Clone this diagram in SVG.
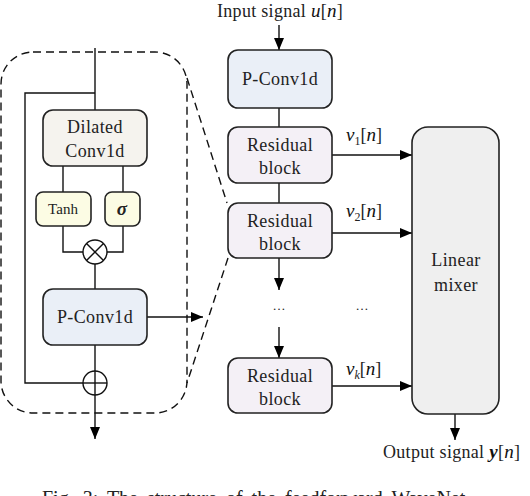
<svg xmlns="http://www.w3.org/2000/svg" width="530" height="496" viewBox="0 0 530 496">
<defs>
<marker id="ah" viewBox="0 0 12 10" refX="12" refY="5" markerWidth="12" markerHeight="10" markerUnits="userSpaceOnUse" orient="auto">
<path d="M0,0 L12,5 L0,10 Z" fill="#000"/>
</marker>
</defs>
<style>
.box{stroke:#222;stroke-width:1.6}
.ln{stroke:#111;stroke-width:1.4;fill:none}
.arr{stroke:#111;stroke-width:1.4;fill:none;marker-end:url(#ah)}
.dash{stroke:#111;stroke-width:1.4;fill:none;stroke-dasharray:8,5}
.t{font-family:"Liberation Serif",serif;font-size:18px;fill:#222;text-anchor:middle;letter-spacing:0.4px}
.m{font-family:"Liberation Serif",serif;font-size:19px;font-style:italic;fill:#111}
</style>
<g id="connectors">
<rect x="1" y="52" width="186" height="361" rx="32" ry="32" class="dash"/>
<line x1="187" y1="78" x2="227" y2="203" class="dash"/>
<line x1="228" y1="258" x2="187" y2="383" class="dash"/>
<line x1="95" y1="48" x2="95" y2="110" class="ln"/>
<polyline points="95,93 25,93 25,383 83,383" class="ln"/>
<line x1="63" y1="166" x2="63" y2="192" class="ln"/>
<line x1="123" y1="166" x2="123" y2="192" class="ln"/>
<polyline points="63,226 63,252 83,252" class="ln"/>
<polyline points="123,226 123,252 107,252" class="ln"/>
<line x1="95" y1="264" x2="95" y2="289" class="ln"/>
<line x1="147" y1="317" x2="203" y2="317" class="arr"/>
<line x1="95" y1="345" x2="95" y2="439" class="arr"/>
<line x1="279" y1="25" x2="279" y2="50" class="arr"/>
<line x1="279" y1="108" x2="279" y2="127" class="ln"/>
<line x1="279" y1="183" x2="279" y2="203" class="ln"/>
<line x1="279" y1="258" x2="279" y2="290" class="arr"/>
<line x1="279" y1="327" x2="279" y2="358" class="arr"/>
<line x1="332" y1="155" x2="412" y2="155" class="arr"/>
<line x1="332" y1="233" x2="412" y2="233" class="arr"/>
<line x1="332" y1="386" x2="412" y2="386" class="arr"/>
<line x1="455" y1="414" x2="455" y2="440" class="arr"/>
</g>
<g id="dilated">
<rect x="43" y="110" width="104" height="56" rx="10" class="box" fill="#f5f3ee"/>
<text x="95" y="133" class="t">Dilated</text>
<text x="95" y="157" class="t">Conv1d</text>
</g>
<g id="tanh">
<rect x="36" y="192" width="55" height="34" rx="7" class="box" fill="#fcfce4"/>
<text x="63" y="214" class="t" style="font-size:15px;letter-spacing:0">Tanh</text>
</g>
<g id="sigma">
<rect x="105" y="192" width="35" height="34" rx="7" class="box" fill="#fcfce4"/>
<text x="122" y="215" class="t" style="font-style:italic;font-weight:bold;font-size:19px">σ</text>
</g>
<g id="mult">
<circle cx="95" cy="252" r="12" class="ln"/>
<line x1="86.5" y1="243.5" x2="103.5" y2="260.5" class="ln"/>
<line x1="103.5" y1="243.5" x2="86.5" y2="260.5" class="ln"/>
</g>
<g id="pconv-inner">
<rect x="43" y="289" width="104" height="56" rx="10" class="box" fill="#eaeff7"/>
<text x="95" y="323" class="t">P-Conv1d</text>
</g>
<g id="add">
<circle cx="95" cy="383" r="12" class="ln"/>
<line x1="83" y1="383" x2="107" y2="383" class="ln"/>
</g>
<g id="input-label">
<text x="217" y="17" class="t" style="text-anchor:start;letter-spacing:0.3px">Input signal <tspan class="m">u</tspan>[<tspan class="m">n</tspan>]</text>
</g>
<g id="pconv">
<rect x="228" y="50" width="104" height="58" rx="10" class="box" fill="#eaeff7"/>
<text x="280" y="85" class="t">P-Conv1d</text>
</g>
<g id="res1">
<rect x="228" y="127" width="104" height="56" rx="10" class="box" fill="#f4f0f6"/>
<text x="280" y="151" class="t">Residual</text>
<text x="280" y="174" class="t">block</text>
</g>
<g id="res2">
<rect x="228" y="203" width="104" height="55" rx="10" class="box" fill="#f4f0f6"/>
<text x="280" y="227" class="t">Residual</text>
<text x="280" y="250" class="t">block</text>
</g>
<g id="dots">
<text x="279" y="310" class="t" style="font-size:13px;letter-spacing:0">…</text>
<text x="362" y="310" class="t" style="font-size:13px;letter-spacing:0">…</text>
</g>
<g id="resk">
<rect x="228" y="358" width="104" height="55" rx="10" class="box" fill="#f4f0f6"/>
<text x="280" y="382" class="t">Residual</text>
<text x="280" y="405" class="t">block</text>
</g>
<g id="mixer">
<rect x="412" y="127" width="87" height="287" rx="16" class="box" fill="#efefef"/>
<text x="456" y="266" class="t">Linear</text>
<text x="456" y="291" class="t">mixer</text>
</g>
<g id="labels">
<text x="346" y="141" class="t" style="text-anchor:start;letter-spacing:0"><tspan class="m">v</tspan><tspan style="font-size:12px" dy="4">1</tspan><tspan dy="-4">[</tspan><tspan class="m">n</tspan>]</text>
<text x="346" y="217" class="t" style="text-anchor:start;letter-spacing:0"><tspan class="m">v</tspan><tspan style="font-size:12px" dy="4">2</tspan><tspan dy="-4">[</tspan><tspan class="m">n</tspan>]</text>
<text x="346" y="375" class="t" style="text-anchor:start;letter-spacing:0"><tspan class="m">v</tspan><tspan style="font-size:12px;font-style:italic" dy="4">k</tspan><tspan dy="-4">[</tspan><tspan class="m">n</tspan>]</text>
<text x="383" y="458" class="t" style="text-anchor:start;letter-spacing:0.3px">Output signal <tspan class="m" style="font-weight:bold">y</tspan>[<tspan class="m">n</tspan>]</text>
</g>
<g id="caption">
<text x="42" y="505" style="font-family:'Liberation Serif',serif;font-size:20px;fill:#222;word-spacing:4px">Fig. 3: The structure of the feedforward WaveNet</text>
</g>
</svg>
